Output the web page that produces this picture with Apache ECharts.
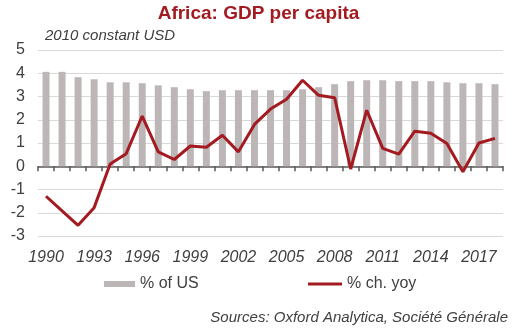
<!DOCTYPE html>
<html>
<head>
<meta charset="utf-8">
<script src="https://cdn.jsdelivr.net/npm/echarts@6/dist/echarts.min.js"></script>
<style>html,body{margin:0;padding:0;background:#fff;}#c{width:517px;height:334px;}</style>
</head>
<body>
<div id="c"></div>
<script>
const years = ['1990','1991','1992','1993','1994','1995','1996','1997','1998','1999','2000','2001','2002','2003','2004','2005','2006','2007','2008','2009','2010','2011','2012','2013','2014','2015','2016','2017','2018'];
const pctOfUS = [4.06,4.06,3.83,3.74,3.61,3.61,3.57,3.48,3.40,3.31,3.23,3.27,3.27,3.27,3.27,3.27,3.31,3.40,3.53,3.66,3.70,3.70,3.66,3.66,3.66,3.61,3.57,3.57,3.53];
const pctChYoy = [-1.29,-1.92,-2.54,-1.78,0.10,0.54,2.16,0.62,0.29,0.87,0.82,1.33,0.62,1.80,2.46,2.88,3.70,3.05,2.95,-0.12,2.41,0.77,0.52,1.51,1.42,0.98,-0.24,1.00,1.20];
const yTicks = {min:-3, max:5, interval:1};

const chart = echarts.init(document.getElementById('c'));
const txt = '#404040';
chart.setOption({
  animation:false,
  title:[
    {text:'Africa: GDP per capita', left:'center', top:4, padding:0, textStyle:{fontFamily:'Liberation Sans', fontSize:19, fontWeight:'bold', color:'#a31a20'}},
    {text:'2010 constant USD', left:45, top:28, padding:0, textStyle:{fontFamily:'Liberation Sans', fontSize:15, fontStyle:'italic', fontWeight:'normal', color:txt}},
    {text:'Sources: Oxford Analytica, Société Générale', right:9, top:310, padding:0, textStyle:{fontFamily:'Liberation Sans', fontSize:15, fontStyle:'italic', fontWeight:'normal', color:txt}}
  ],
  legend:[
    {data:[{name:'% of US', icon:'rect'}], left:104, top:276, padding:0, itemWidth:31, itemHeight:6, textStyle:{fontFamily:'Liberation Sans', fontSize:16, color:txt}},
    {data:[{name:'% ch. yoy', icon:'rect'}], left:308, top:276, padding:0, itemWidth:34, itemHeight:3, textStyle:{fontFamily:'Liberation Sans', fontSize:16, color:txt}}
  ],
  grid:{left:38, right:14, top:50, bottom:98, containLabel:false},
  xAxis:[
    {type:'category', data:years, position:'bottom', boundaryGap:true,
     axisLine:{show:false, onZero:false}, axisTick:{show:false},
     axisLabel:{interval:2, margin:14, fontFamily:'Liberation Sans', fontSize:16, fontStyle:'italic', color:txt}},
    {type:'category', data:years, position:'bottom', boundaryGap:true,
     axisLine:{show:true, onZero:true, lineStyle:{color:'#595959', width:1.5}},
     axisTick:{show:true, interval:0, length:5, lineStyle:{color:'#595959', width:1.5}},
     axisLabel:{show:false}}
  ],
  yAxis:{type:'value', min:yTicks.min, max:yTicks.max, interval:yTicks.interval,
    axisLine:{show:false}, axisTick:{show:false},
    splitLine:{lineStyle:{color:'#d9d9d9', width:1}},
    axisLabel:{margin:13, fontFamily:'Liberation Sans', fontSize:16, color:txt}},
  series:[
    {name:'% of US', type:'bar', data:pctOfUS, barWidth:7, itemStyle:{color:'#bdb6b6'}, z:1},
    {name:'% ch. yoy', type:'line', data:pctChYoy, symbol:'none', lineStyle:{color:'#a31a20', width:3}, itemStyle:{color:'#a31a20'}, z:3}
  ]
});
</script>
</body>
</html>
